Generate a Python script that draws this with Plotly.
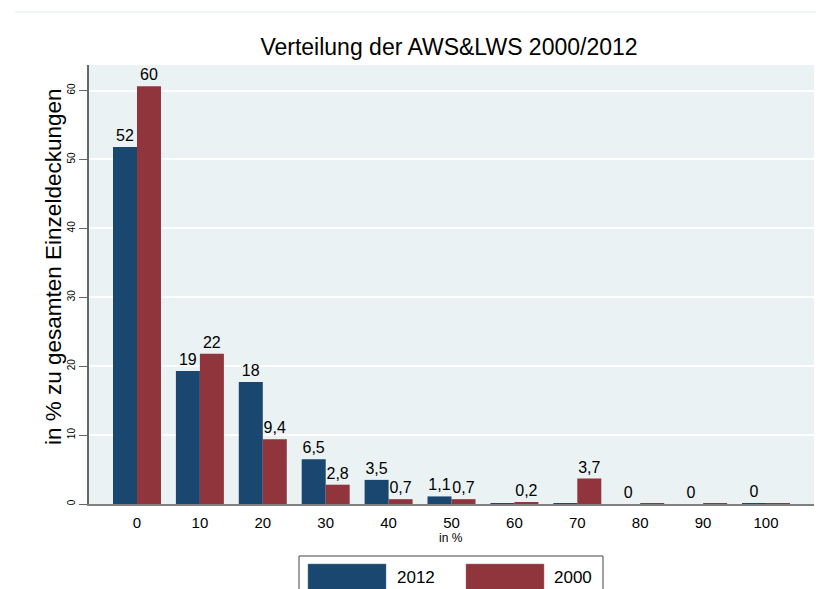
import plotly.graph_objects as go

# ---- data ----
categories = [0, 10, 20, 30, 40, 50, 60, 70, 80, 90, 100]
tick_labels = ["0", "10", "20", "30", "40", "50", "60", "70", "80", "90", "100"]
values_2012 = [51.8, 19.3, 17.7, 6.5, 3.5, 1.1, 0.05, 0.05, 0.0, 0.0, 0.05]
values_2000 = [60.6, 21.8, 9.4, 2.8, 0.7, 0.7, 0.2, 3.7, 0.05, 0.1, 0.05]
labels_2012 = ["52", "19", "18", "6,5", "3,5", "1,1", "", "", "0", "0", "0"]
labels_2000 = ["60", "22", "9,4", "2,8", "0,7", "0,7", "0,2", "3,7", "", "", ""]
y_ticks = [0, 10, 20, 30, 40, 50, 60]

BLUE = "#1a476f"
RED = "#90353b"
FONT = "Liberation Sans, Arial, sans-serif"

# page offset (browser body margin)
OFF = 8
FW, FH = 824 - OFF, 589 - OFF
# plot area in screen pixels
L, R, T, B = 89, 814, 65, 504
W, H = R - L, B - T


def px(x):
    return (x - L) / W


def py(y):
    return (B - y) / H


fig = go.Figure()
fig.add_trace(go.Bar(
    x=categories, y=values_2012, name="2012", marker=dict(color=BLUE, line=dict(width=0)),
    text=labels_2012, textposition="outside", cliponaxis=False,
    textfont=dict(size=16, color="black", family=FONT), showlegend=False,
))
fig.add_trace(go.Bar(
    x=categories, y=values_2000, name="2000", marker=dict(color=RED, line=dict(width=0)),
    text=labels_2000, textposition="outside", cliponaxis=False,
    textfont=dict(size=16, color="black", family=FONT), showlegend=False,
))

shapes = [
    # faint outer frame line at top
    dict(type="line", xref="paper", yref="paper", x0=px(15), x1=px(830), y0=py(12), y1=py(12),
         line=dict(color="#e4ecec", width=1)),
    # legend box
    dict(type="rect", xref="paper", yref="paper", x0=px(299), x1=px(603), y0=py(556), y1=py(600),
         line=dict(color="#444444", width=1), fillcolor="white", layer="above"),
    dict(type="rect", xref="paper", yref="paper", x0=px(308), x1=px(386), y0=py(564), y1=py(596),
         line=dict(color="#5a7a98", width=0.5), fillcolor=BLUE, layer="above"),
    dict(type="rect", xref="paper", yref="paper", x0=px(466), x1=px(544), y0=py(564), y1=py(596),
         line=dict(color="#b07075", width=0.5), fillcolor=RED, layer="above"),
]

annotations = [
    dict(text="in % zu gesamten Einzeldeckungen", xref="paper", yref="paper",
         x=px(53), y=py(267), textangle=-90, showarrow=False,
         font=dict(size=22.5, color="black", family=FONT), xanchor="center", yanchor="middle"),
    dict(text="in %", xref="paper", yref="paper", x=px(451), y=py(538), showarrow=False,
         font=dict(size=12, color="black", family=FONT), xanchor="center", yanchor="middle"),
    dict(text="2012", xref="paper", yref="paper", x=px(416), y=py(577), showarrow=False,
         font=dict(size=17, color="black", family=FONT), xanchor="center", yanchor="middle"),
    dict(text="2000", xref="paper", yref="paper", x=px(573), y=py(577), showarrow=False,
         font=dict(size=17, color="black", family=FONT), xanchor="center", yanchor="middle"),
]

fig.update_layout(
    width=FW, height=FH,
    margin=dict(l=L - OFF, r=FW - (R - OFF), t=T - OFF, b=FH - (B - OFF)),
    paper_bgcolor="white", plot_bgcolor="#eaf2f3",
    barmode="group", bargap=0.237, bargroupgap=0,
    font=dict(family=FONT, color="black"),
    title=dict(text="Verteilung der AWS&LWS 2000/2012", x=(449 - OFF) / FW, xanchor="center",
               y=1 - (47 - OFF) / FH, yanchor="middle", font=dict(size=23, color="black", family=FONT)),
    xaxis=dict(
        range=[-7.63, 107.63], tickmode="array", tickvals=categories, ticktext=tick_labels,
        showgrid=False, zeroline=False, showline=True, linecolor="#7f7f7f", linewidth=2,
        ticks="", tickfont=dict(size=15, color="black", family=FONT), ticklabelstandoff=4,
    ),
    yaxis=dict(
        range=[0, 63.7], tickmode="array", tickvals=y_ticks,
        showgrid=True, gridcolor="white", gridwidth=2, zeroline=False,
        showline=True, linecolor="#666666", linewidth=1.5,
        ticks="outside", ticklen=8, tickcolor="#666666", tickwidth=1,
        tickangle=-90, tickfont=dict(size=10, color="black", family=FONT),
    ),
    shapes=shapes, annotations=annotations,
)

fig.write_html("out.html")
